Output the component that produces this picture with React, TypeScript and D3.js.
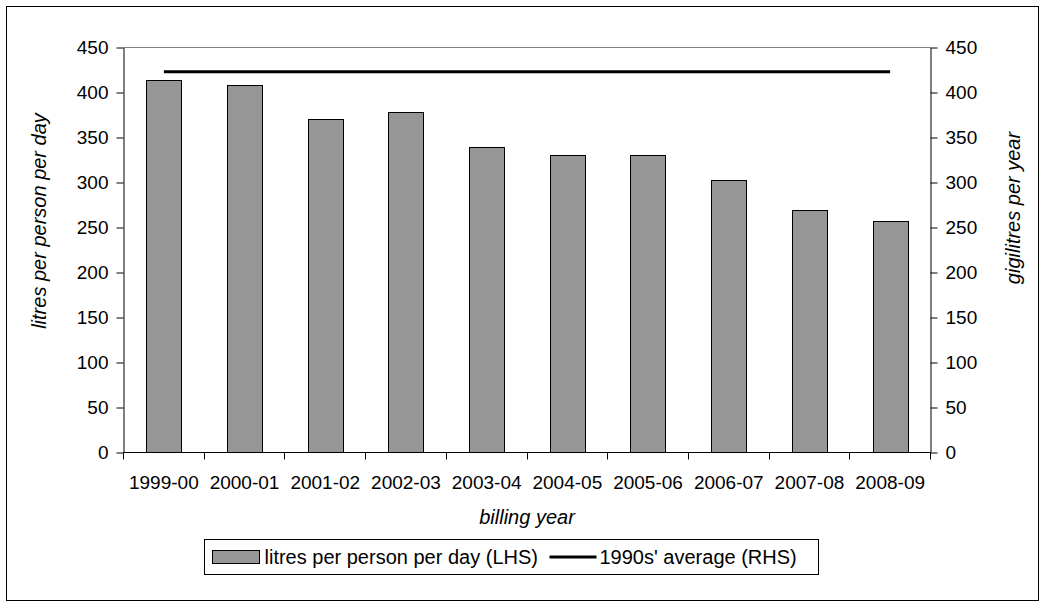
import React, { useEffect, useRef } from 'react';
import * as d3 from 'd3';

const billingYears = [
  '1999-00', '2000-01', '2001-02', '2002-03', '2003-04',
  '2004-05', '2005-06', '2006-07', '2007-08', '2008-09',
];
const litresPerPerson = [414, 408, 371, 378, 339, 331, 331, 303, 269, 257];
const nineties = [423, 423, 423, 423, 423, 423, 423, 423, 423, 423];
const yTicks = [0, 50, 100, 150, 200, 250, 300, 350, 400, 450];

const FONT = '"Liberation Sans", Arial, sans-serif';

const App: React.FC = () => {
  const gRef = useRef<SVGGElement | null>(null);

  useEffect(() => {
    const svg = d3.select(gRef.current!);
    svg.selectAll('*').remove();

    // plot area
    const left = 123.5;
    const right = 930.5;
    const top = 47.5;
    const bottom = 452.5;

    const x = d3.scaleBand<string>().domain(billingYears).range([left, right]).paddingInner(0).paddingOuter(0);
    const barX = d3.scaleBand<string>().domain(billingYears).range([left, right]).paddingInner(0.565).paddingOuter(0.2825);
    const yL = d3.scaleLinear().domain([0, 450]).range([bottom, top]);
    const yR = d3.scaleLinear().domain([0, 450]).range([bottom, top]);

    // top gridline
    svg
      .append('line')
      .attr('x1', left)
      .attr('x2', right)
      .attr('y1', yL(450))
      .attr('y2', yL(450))
      .attr('stroke', '#808080');

    // bars
    svg
      .append('g')
      .selectAll('rect')
      .data(litresPerPerson)
      .enter()
      .append('rect')
      .attr('x', (d, i) => Math.round(barX(billingYears[i])!) + 0.5)
      .attr('y', (d) => Math.round(yL(d)) + 0.5)
      .attr('width', Math.round(barX.bandwidth()))
      .attr('height', (d) => bottom - Math.round(yL(d)) - 0.5)
      .attr('fill', '#969696')
      .attr('stroke', '#000');

    // average line (RHS)
    const line = d3
      .line<number>()
      .x((d, i) => x(billingYears[i])! + x.bandwidth() / 2)
      .y((d) => yR(d));
    svg
      .append('path')
      .datum(nineties)
      .attr('d', line)
      .attr('fill', 'none')
      .attr('stroke', '#000')
      .attr('stroke-width', 3);

    // left + right axes
    const gl = svg
      .append('g')
      .attr('transform', `translate(${left},0)`)
      .call(d3.axisLeft(yL).tickValues(yTicks).tickSize(7).tickPadding(8).tickSizeOuter(0));
    const gr = svg
      .append('g')
      .attr('transform', `translate(${right},0)`)
      .call(d3.axisRight(yR).tickValues(yTicks).tickSize(7).tickPadding(8).tickSizeOuter(0));

    // bottom axis: ticks on category boundaries
    const gb = svg.append('g').attr('transform', `translate(0,${bottom})`);
    gb.append('line').attr('x1', left).attr('x2', right).attr('stroke', '#000');
    const bounds = billingYears.map((c) => x(c)!).concat([right]);
    gb.selectAll('line.tick')
      .data(bounds)
      .enter()
      .append('line')
      .attr('class', 'tick')
      .attr('x1', (d) => Math.round(d - 0.5) + 0.5)
      .attr('x2', (d) => Math.round(d - 0.5) + 0.5)
      .attr('y1', 0)
      .attr('y2', 7)
      .attr('stroke', '#000');
    gb.selectAll('text')
      .data(billingYears)
      .enter()
      .append('text')
      .attr('x', (d) => x(d)! + x.bandwidth() / 2)
      .attr('y', 36)
      .attr('text-anchor', 'middle')
      .text((d) => d);

    [gl, gr].forEach((g) => {
      g.selectAll('.domain').attr('stroke', '#000');
      g.selectAll('.tick line').attr('stroke', '#000');
    });
    svg.selectAll('text').attr('font-family', FONT).attr('font-size', 19).attr('fill', '#000');

    // axis titles
    const title = (t: string, transform: string) =>
      svg
        .append('text')
        .attr('transform', transform)
        .attr('text-anchor', 'middle')
        .attr('font-style', 'italic')
        .attr('font-family', FONT)
        .attr('font-size', 20)
        .text(t);
    title('litres per person per day', 'translate(46,221) rotate(-90)');
    title('gigilitres per year', 'translate(1020,208) rotate(-90)');
    title('billing year', `translate(${(left + right) / 2},524)`);

    // legend
    const lg = svg.append('g').attr('transform', 'translate(204.5,539.5)');
    lg.append('rect').attr('width', 614).attr('height', 35).attr('fill', '#fff').attr('stroke', '#000');
    lg.append('rect').attr('x', 8).attr('y', 11).attr('width', 47).attr('height', 13).attr('fill', '#969696').attr('stroke', '#000');
    lg.append('text')
      .attr('x', 60)
      .attr('y', 24.5)
      .attr('font-family', FONT)
      .attr('font-size', 20)
      .text('litres per person per day (LHS)');
    lg.append('line').attr('x1', 345).attr('x2', 392).attr('y1', 17.5).attr('y2', 17.5).attr('stroke', '#000').attr('stroke-width', 3);
    lg.append('text')
      .attr('x', 395)
      .attr('y', 24.5)
      .attr('font-family', FONT)
      .attr('font-size', 20)
      .text("1990s' average (RHS)");
  }, []);

  return (
    <svg width={1045} height={608} style={{ position: 'absolute', left: 0, top: 0, background: '#fff' }}>
      <rect x={6.5} y={6.5} width={1032} height={594} fill="#fff" stroke="#000" strokeWidth={1} />
      <g ref={gRef} />
    </svg>
  );
};

export default App;
